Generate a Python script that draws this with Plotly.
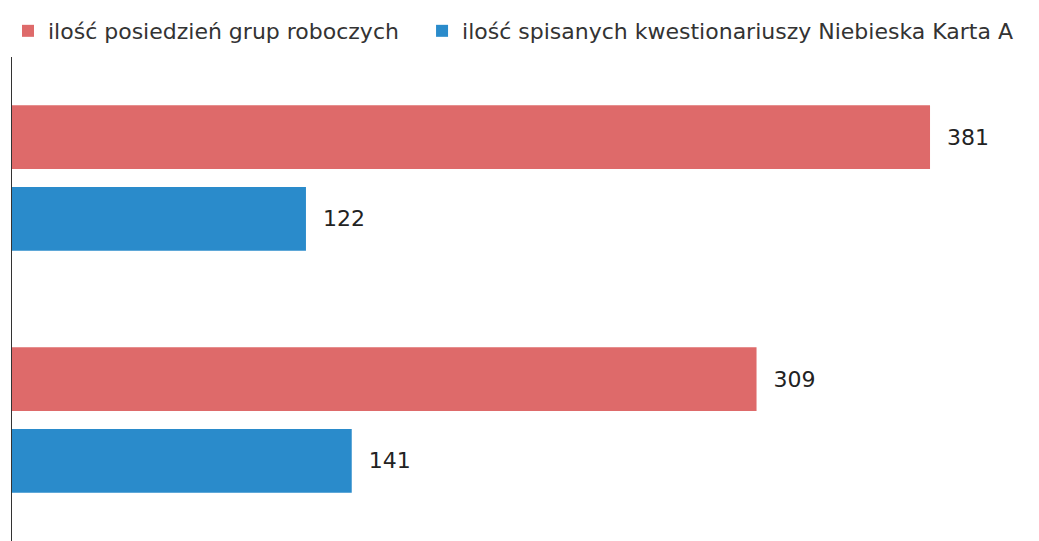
import plotly.graph_objects as go

categories = ["Grupa 1", "Grupa 2"]
series_names = ["ilość posiedzień grup roboczych",
                "ilość spisanych kwestionariuszy Niebieska Karta A"]
meetings = [381, 309]
questionnaires = [122, 141]
colors = ["#DE6A6A", "#2A8BCB"]
legend_ids = ["legend", "legend2"]

fig = go.Figure()
for name, vals, col, lg in zip(series_names, [meetings, questionnaires], colors, legend_ids):
    fig.add_trace(go.Bar(
        y=categories, x=vals, name=name, orientation="h", legend=lg,
        marker=dict(color=col, line=dict(width=0)),
        text=vals, texttemplate="\u00a0\u00a0%{x}", textposition="outside",
        textfont=dict(family="DejaVu Sans", size=22, color="#222222"),
        cliponaxis=False,
    ))

legend_font = dict(family="DejaVu Sans", size=22, color="#333333")
fig.update_layout(
    width=1031, height=533,
    margin=dict(l=4, r=15, t=49, b=0),
    paper_bgcolor="white", plot_bgcolor="white",
    barmode="group", bargap=0.325, bargroupgap=0.22,
    showlegend=True,
    legend=dict(orientation="h", xref="container", yref="container",
                x=0.0, xanchor="left", y=0.9568, yanchor="middle",
                font=legend_font, bgcolor="rgba(0,0,0,0)"),
    legend2=dict(orientation="h", xref="container", yref="container",
                 x=0.4016, xanchor="left", y=0.9568, yanchor="middle",
                 font=legend_font, bgcolor="rgba(0,0,0,0)"),
    xaxis=dict(range=[0, 420], showgrid=False, zeroline=False, showticklabels=False,
               showline=False, ticks=""),
    yaxis=dict(autorange="reversed", showgrid=False, showticklabels=False, ticks="",
               showline=True, linecolor="#333333", linewidth=1),
)

fig.write_html("out.html")
